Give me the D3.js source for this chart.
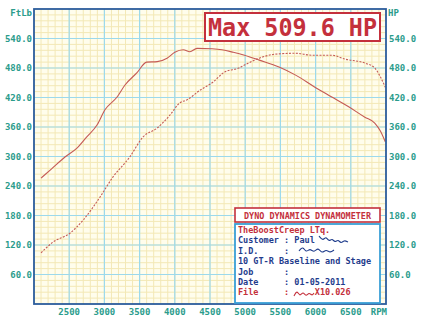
<!DOCTYPE html>
<html>
<head>
<meta charset="utf-8">
<script src="https://cdn.jsdelivr.net/npm/d3@7"></script>
<style>
  body { margin: 0; background: #fff; }
  svg { display: block; }
</style>
</head>
<body>
<div id="chart"></div>
<script>

// Torque (FtLb)
let torqueRpm = [2100, 2250, 2440, 2610, 2750, 2895, 3008, 3180, 3290, 3460, 3600, 3750, 3890, 4000, 4120, 4215, 4315, 4530, 4670, 4830, 4990, 5200, 5480, 5710, 5990, 6230, 6470, 6700, 6840, 6920, 6990];
let torqueVal = [256, 275, 299, 317, 340, 364, 395, 421, 445, 470, 492, 493, 500, 512, 517, 513, 520, 519, 517, 512, 506, 496, 482, 466, 441, 421, 401, 380, 368, 352, 330];

// Power (HP)
let powerRpm = [2100, 2270, 2510, 2700, 2940, 3120, 3360, 3550, 3750, 3930, 4070, 4170, 4360, 4530, 4710, 4910, 4990, 5200, 5420, 5710, 5950, 6230, 6420, 6700, 6840, 6920, 6990];
let powerVal = [104, 126, 144, 171, 218, 258, 299, 340, 358, 384, 409, 415, 435, 450, 472, 480, 486, 500, 508, 510, 506, 506, 498, 490, 480, 462, 441];

let xTicks = [2500, 3000, 3500, 4000, 4500, 5000, 5500, 6000, 6500];
let yTicks = [60, 120, 180, 240, 300, 360, 420, 480, 540];

let maxLabel = "Max 509.6 HP";
let dynoTitle = "DYNO DYNAMICS DYNAMOMETER";
let infoLines = [
    {text: "TheBoostCreep LTq.", red: true},
    {text: "Customer : Paul", red: false},
    {text: "I.D.     :", red: false},
    {text: "10 GT-R Baseline and Stage", red: false},
    {text: "Job      :", red: false},
    {text: "Date     : 01-05-2011", red: false},
    {text: "File     :     X10.026", red: true}
];

const W = 425, H = 321;
const margin = {top: 9, right: 39, bottom: 17, left: 34};
const width = W - margin.left - margin.right;
const height = H - margin.top - margin.bottom;

const font = "'DejaVu Sans Mono', monospace";
const teal = "#2b9c8c";
const red = "#c4303c";
const navy = "#1f3c8c";

let svg = d3.select("#chart").append("svg")
    .attr("width", W)
    .attr("height", H);

let g = svg.append("g")
    .attr("transform", "translate(" + margin.left + "," + margin.top + ")");

let x = d3.scaleLinear().domain([2000, 7000]).range([0, width]);
let y = d3.scaleLinear().domain([0, 600]).range([height, 0]);

// plot background
g.append("rect")
    .attr("width", width)
    .attr("height", height)
    .attr("fill", "#fffdec");

// minor grid
g.append("g").selectAll("line")
    .data(d3.range(2100, 7000, 100))
    .join("line")
    .attr("x1", d => x(d)).attr("x2", d => x(d))
    .attr("y1", 0).attr("y2", height)
    .attr("stroke", "#f3e8b6")
    .attr("stroke-width", 1);

g.append("g").selectAll("line")
    .data(d3.range(12, 600, 12))
    .join("line")
    .attr("y1", d => y(d)).attr("y2", d => y(d))
    .attr("x1", 0).attr("x2", width)
    .attr("stroke", "#f3e8b6")
    .attr("stroke-width", 1);

// major grid
g.append("g").selectAll("line")
    .data(xTicks)
    .join("line")
    .attr("x1", d => x(d)).attr("x2", d => x(d))
    .attr("y1", 0).attr("y2", height)
    .attr("stroke", "#9cd9ec")
    .attr("stroke-width", 1.2);

g.append("g").selectAll("line")
    .data(yTicks)
    .join("line")
    .attr("y1", d => y(d)).attr("y2", d => y(d))
    .attr("x1", 0).attr("x2", width)
    .attr("stroke", "#9cd9ec")
    .attr("stroke-width", 1.2);

// curves
let line = d3.line()
    .x(d => x(d[0]))
    .y(d => y(d[1]))
    .curve(d3.curveMonotoneX);

g.append("path")
    .datum(d3.zip(torqueRpm, torqueVal))
    .attr("d", line)
    .attr("fill", "none")
    .attr("stroke", "#c55a55")
    .attr("stroke-width", 1.1);

g.append("path")
    .datum(d3.zip(powerRpm, powerVal))
    .attr("d", line)
    .attr("fill", "none")
    .attr("stroke", "#c55a55")
    .attr("stroke-width", 1.1)
    .attr("stroke-dasharray", "2,1.4");

// frame
g.append("rect")
    .attr("width", width)
    .attr("height", height)
    .attr("fill", "none")
    .attr("stroke", "#2c5c9c")
    .attr("stroke-width", 1.8);

// axis labels
let labelStyle = sel => sel
    .attr("font-family", font)
    .attr("font-weight", "bold")
    .attr("font-size", 9)
    .attr("fill", teal);

g.append("g").selectAll("text")
    .data(yTicks)
    .join("text")
    .attr("x", -2)
    .attr("y", d => y(d) + 3)
    .attr("text-anchor", "end")
    .call(labelStyle)
    .text(d => d.toFixed(1));

g.append("g").selectAll("text")
    .data(yTicks)
    .join("text")
    .attr("x", width + 3)
    .attr("y", d => y(d) + 3)
    .attr("text-anchor", "start")
    .call(labelStyle)
    .text(d => d.toFixed(1));

g.append("g").selectAll("text")
    .data(xTicks)
    .join("text")
    .attr("x", d => x(d))
    .attr("y", height + 11)
    .attr("text-anchor", "middle")
    .call(labelStyle)
    .text(d => d);

g.append("text")
    .attr("x", width + 1)
    .attr("y", height + 11)
    .attr("text-anchor", "end")
    .call(labelStyle)
    .text("RPM");

g.append("text")
    .attr("x", -2)
    .attr("y", 7)
    .attr("text-anchor", "end")
    .call(labelStyle)
    .text("FtLb");

g.append("text")
    .attr("x", width + 2)
    .attr("y", 7)
    .call(labelStyle)
    .text("HP");

// max label box
svg.append("rect")
    .attr("x", 205).attr("y", 13)
    .attr("width", 175).attr("height", 28)
    .attr("fill", "#fff")
    .attr("stroke", red)
    .attr("stroke-width", 2);

svg.append("text")
    .attr("x", 208).attr("y", 36)
    .attr("font-family", font)
    .attr("font-weight", "bold")
    .attr("font-size", 25)
    .attr("fill", red)
    .attr("textLength", 169)
    .attr("lengthAdjust", "spacingAndGlyphs")
    .text(maxLabel);

// dyno title box
svg.append("rect")
    .attr("x", 235).attr("y", 208)
    .attr("width", 145).attr("height", 14)
    .attr("fill", "#fff")
    .attr("stroke", red)
    .attr("stroke-width", 1.6);

svg.append("text")
    .attr("x", 307.5).attr("y", 218.5)
    .attr("text-anchor", "middle")
    .attr("font-family", font)
    .attr("font-weight", "bold")
    .attr("font-size", 8.5)
    .attr("fill", red)
    .attr("textLength", 127)
    .attr("lengthAdjust", "spacingAndGlyphs")
    .text(dynoTitle);

// info box
svg.append("rect")
    .attr("x", 235).attr("y", 224)
    .attr("width", 145).attr("height", 79)
    .attr("fill", "#fff")
    .attr("stroke", "#3a9fd6")
    .attr("stroke-width", 1.8);

svg.append("g").selectAll("text")
    .data(infoLines)
    .join("text")
    .attr("x", 238)
    .attr("y", (d, i) => 233 + i * 10.4)
    .attr("font-family", font)
    .attr("font-weight", "bold")
    .attr("font-size", 8.5)
    .attr("fill", d => d.red ? red : navy)
    .attr("xml:space", "preserve")
    .style("white-space", "pre")
    .text(d => d.text);

// scribbles covering names
let scribble = d3.line().curve(d3.curveBasis);
let scribbles = [
    {c: navy, p: [[319, 236], [323, 241], [326, 236], [329, 242], [332, 238], [335, 243], [338, 239], [341, 244], [344, 240], [348, 242]]},
    {c: navy, p: [[299, 251], [303, 246], [306, 253], [310, 248], [314, 253], [318, 247], [322, 254], [326, 249], [330, 253], [334, 250]]},
    {c: red, p: [[294, 296], [297, 290], [300, 297], [303, 291], [306, 297], [309, 292], [312, 296], [314, 293]]}
];
svg.append("g").selectAll("path")
    .data(scribbles)
    .join("path")
    .attr("d", d => scribble(d.p))
    .attr("fill", "none")
    .attr("stroke", d => d.c)
    .attr("stroke-width", 1.1);

</script>
</body>
</html>
